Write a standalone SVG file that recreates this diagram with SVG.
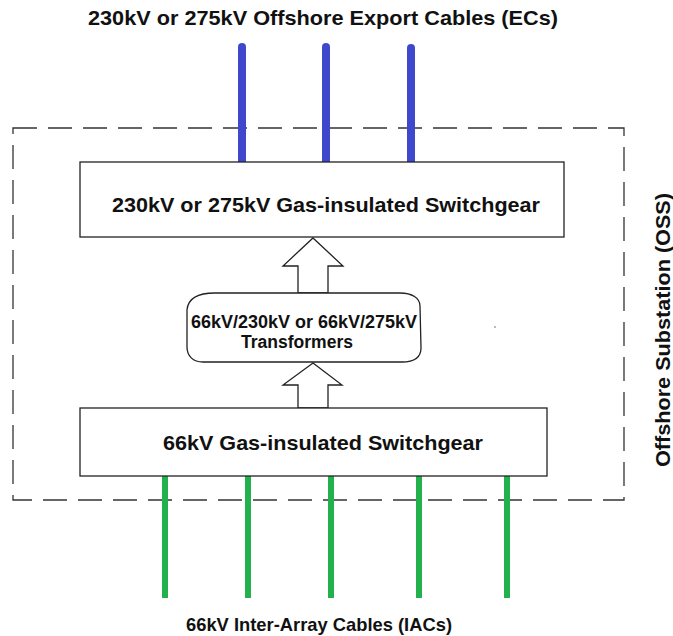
<svg xmlns="http://www.w3.org/2000/svg" width="673" height="636" viewBox="0 0 673 636">
<style>
text{font-family:"Liberation Sans",Arial,sans-serif;font-weight:bold;fill:#111;text-anchor:middle}
.box{fill:#fff;stroke:#222;stroke-width:1.3}
.ec{stroke:#3f48cc;stroke-width:8;stroke-linecap:round}
.iac{stroke:#22b14c;stroke-width:6}
.dash{fill:none;stroke:#333;stroke-width:1.3;stroke-dasharray:24 11}
.arrow{fill:#fff;stroke:#222;stroke-width:1.3}
</style>
<rect width="673" height="636" fill="#fff"/>
<text x="323" y="25" font-size="21" textLength="470" lengthAdjust="spacingAndGlyphs">230kV or 275kV Offshore Export Cables (ECs)</text>
<g id="oss">
<rect class="dash" x="13" y="128" width="611" height="372"/>
<text transform="translate(670,330) rotate(-90)" font-size="21" textLength="274" lengthAdjust="spacingAndGlyphs">Offshore Substation (OSS)</text>
</g>
<g id="connectors">
<line class="ec" x1="242" y1="47" x2="242" y2="162"/>
<line class="ec" x1="326" y1="47" x2="326" y2="162"/>
<line class="ec" x1="411" y1="48" x2="411" y2="162"/>
<line class="iac" x1="165" y1="476" x2="165" y2="598"/>
<line class="iac" x1="248" y1="476" x2="248" y2="598"/>
<line class="iac" x1="331" y1="476" x2="331" y2="598"/>
<line class="iac" x1="419" y1="476" x2="419" y2="598"/>
<line class="iac" x1="507" y1="476" x2="507" y2="598"/>
<path class="arrow" d="M313,238 L343,266 L328,266 L328,293 L298,293 L298,266 L283,266 Z"/>
<path class="arrow" d="M313,363 L342,385 L328,385 L328,408 L298,408 L298,385 L283,385 Z"/>
</g>
<g id="hv-gis">
<rect class="box" x="80" y="162" width="484" height="75"/>
<text x="326" y="212" font-size="21" textLength="428" lengthAdjust="spacingAndGlyphs">230kV or 275kV Gas-insulated Switchgear</text>
</g>
<g id="transformers">
<path class="box" d="M187,310 C188,298 198,293 215,293 L400,293 C412,293 420,298 420,306 L421,348 C421,358 414,362 402,362 L203,362 C193,362 187,356 187,347 Z"/>
<text x="304" y="328" font-size="18" textLength="226" lengthAdjust="spacingAndGlyphs">66kV/230kV or 66kV/275kV</text>
<text x="297" y="348" font-size="18" textLength="112" lengthAdjust="spacingAndGlyphs">Transformers</text>
</g>
<g id="mv-gis">
<rect class="box" x="80" y="408" width="467" height="68"/>
<text x="323" y="450" font-size="21" textLength="320" lengthAdjust="spacingAndGlyphs">66kV Gas-insulated Switchgear</text>
</g>
<circle cx="495" cy="327" r="0.8" fill="#666"/>
<text x="319" y="631" font-size="19" textLength="266" lengthAdjust="spacingAndGlyphs">66kV Inter-Array Cables (IACs)</text>
</svg>
